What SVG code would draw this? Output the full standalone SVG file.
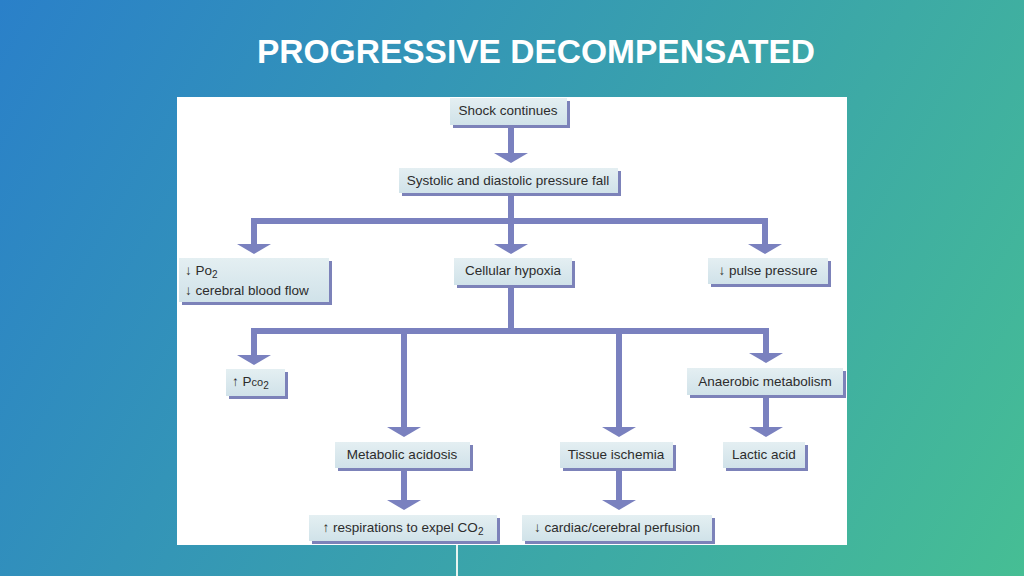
<svg xmlns="http://www.w3.org/2000/svg" width="1024" height="576" viewBox="0 0 1024 576">
<defs>
<linearGradient id="bg" gradientUnits="userSpaceOnUse" x1="0" y1="0" x2="1024" y2="576">
<stop offset="0" stop-color="#2a80c9"/>
<stop offset="1" stop-color="#46be94"/>
</linearGradient>
<linearGradient id="boxfill" x1="0" y1="0" x2="0" y2="1">
<stop offset="0" stop-color="#e4eff2"/>
<stop offset="1" stop-color="#d0e2e9"/>
</linearGradient>
<marker id="head" markerUnits="userSpaceOnUse" viewBox="0 -17 10 34" refX="0" refY="0" markerWidth="10" markerHeight="34" orient="auto">
<path d="M0,-17 L10,0 L0,17 Z" fill="#7a81bf"/>
</marker>
<style>
.title{font-family:"Liberation Sans",Arial,sans-serif;font-weight:bold;font-size:34px;fill:#ffffff}
.box{fill:url(#boxfill)}
.sh{fill:#7c82b9}
.t{font-family:"Liberation Sans",Arial,sans-serif;font-size:13.5px;fill:#2c2c2c}
.c{stroke:#7a81bf;stroke-width:6;fill:none}
.ca{stroke:#7a81bf;stroke-width:6;fill:none;marker-end:url(#head)}
</style>
</defs>
<rect width="1024" height="576" fill="url(#bg)"/>
<text class="title" x="536" y="63" text-anchor="middle" textLength="558" lengthAdjust="spacingAndGlyphs">PROGRESSIVE DECOMPENSATED</text>
<rect x="177" y="97" width="670" height="448" fill="#ffffff"/>
<line x1="457" y1="545" x2="457" y2="576" stroke="#e8f4f0" stroke-width="2"/>

<g id="connectors">
<path class="ca" d="M511,128 V153"/>
<path class="c" d="M511,196 V221"/>
<path class="c" d="M251,221 H768"/>
<path class="ca" d="M254,221 V244"/>
<path class="ca" d="M511,221 V244"/>
<path class="ca" d="M765,221 V244"/>
<path class="c" d="M511,288 V331"/>
<path class="c" d="M251,331 H769"/>
<path class="ca" d="M254,331 V355"/>
<path class="ca" d="M404,331 V427"/>
<path class="ca" d="M619,331 V427"/>
<path class="ca" d="M766,331 V353"/>
<path class="ca" d="M766,398 V427"/>
<path class="ca" d="M404,471 V500"/>
<path class="ca" d="M619,471 V500"/>
</g>

<g id="shock">
<rect class="sh" x="453" y="101" width="117" height="27"/>
<rect class="box" x="450" y="98" width="117" height="27"/>
<text class="t" x="508" y="115" text-anchor="middle">Shock continues</text>
</g>
<g id="systolic">
<rect class="sh" x="402" y="171" width="219" height="25"/>
<rect class="box" x="399" y="168" width="219" height="25"/>
<text class="t" x="508" y="185" text-anchor="middle">Systolic and diastolic pressure fall</text>
</g>
<g id="po2">
<rect class="sh" x="182" y="261" width="150" height="44"/>
<rect class="box" x="179" y="258" width="150" height="44"/>
<text class="t" x="185" y="275">↓ Po<tspan font-size="10" dy="3">2</tspan></text>
<text class="t" x="185" y="295">↓ cerebral blood flow</text>
</g>
<g id="hypoxia">
<rect class="sh" x="457" y="261" width="118" height="27"/>
<rect class="box" x="454" y="258" width="118" height="27"/>
<text class="t" x="513" y="275" text-anchor="middle">Cellular hypoxia</text>
</g>
<g id="pulse">
<rect class="sh" x="711" y="261" width="120" height="26"/>
<rect class="box" x="708" y="258" width="120" height="26"/>
<text class="t" x="768" y="275" text-anchor="middle">↓ pulse pressure</text>
</g>
<g id="pco2">
<rect class="sh" x="229" y="372" width="59" height="27"/>
<rect class="box" x="226" y="369" width="59" height="27"/>
<text class="t" x="232" y="386">↑ P<tspan font-size="11">co</tspan><tspan font-size="10" dy="3">2</tspan></text>
</g>
<g id="anaerobic">
<rect class="sh" x="690" y="371" width="156" height="27"/>
<rect class="box" x="687" y="368" width="156" height="27"/>
<text class="t" x="765" y="386" text-anchor="middle">Anaerobic metabolism</text>
</g>
<g id="metabolic">
<rect class="sh" x="338" y="445" width="135" height="26"/>
<rect class="box" x="335" y="442" width="135" height="26"/>
<text class="t" x="402" y="459" text-anchor="middle">Metabolic acidosis</text>
</g>
<g id="ischemia">
<rect class="sh" x="563" y="445" width="113" height="26"/>
<rect class="box" x="560" y="442" width="113" height="26"/>
<text class="t" x="616" y="459" text-anchor="middle">Tissue ischemia</text>
</g>
<g id="lactic">
<rect class="sh" x="726" y="445" width="82" height="26"/>
<rect class="box" x="723" y="442" width="82" height="26"/>
<text class="t" x="764" y="459" text-anchor="middle">Lactic acid</text>
</g>
<g id="respirations">
<rect class="sh" x="312" y="518" width="188" height="26"/>
<rect class="box" x="309" y="515" width="188" height="26"/>
<text class="t" x="403" y="532" text-anchor="middle">↑ respirations to expel CO<tspan font-size="10" dy="3">2</tspan></text>
</g>
<g id="cardiac">
<rect class="sh" x="525" y="518" width="190" height="26"/>
<rect class="box" x="522" y="515" width="190" height="26"/>
<text class="t" x="617" y="532" text-anchor="middle">↓ cardiac/cerebral perfusion</text>
</g>
</svg>
